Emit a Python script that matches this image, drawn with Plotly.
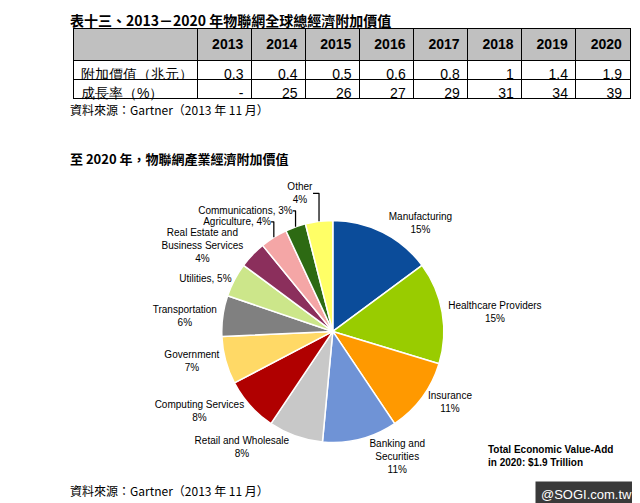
import plotly.graph_objects as go

years = ["2013","2014","2015","2016","2017","2018","2019","2020"]
value_add = ["0.3","0.4","0.5","0.6","0.8","1","1.4","1.9"]
growth = ["-","25","26","27","29","31","34","39"]
row_labels = ["附加價值（兆元）","成長率（%）"]

sectors = ["Manufacturing","Healthcare Providers","Insurance","Banking and<br>Securities",
           "Retail and Wholesale","Computing Services","Government","Transportation",
           "Utilities","Real Estate and<br>Business Services","Agriculture","Communications","Other"]
shares = [15,15,11,11,8,8,7,6,5,4,4,3,4]
inline = [False,False,False,False,False,False,False,False,True,False,True,True,False]
colors = ["#0b4c9a","#99cc00","#ff9900","#6f93d6","#c8c8c8","#b00000","#ffd966",
          "#808080","#cce68a","#8b2f5c","#f4a6a6","#2d6a13","#ffff66"]

texts = [f"{s}, {v}%" if il else f"{s}<br>{v}%" for s, v, il in zip(sectors, shares, inline)]

fig = go.Figure()
header = [""] + years
cols = [row_labels] + [[a, b] for a, b in zip(value_add, growth)]
fig.add_trace(go.Table(
    domain=dict(x=[65/640, 622/640], y=[0.70, 0.96]),
    columnwidth=[2.3] + [1]*8,
    header=dict(values=[f"<b>{h}</b>" for h in header], fill_color="#c0c0c0",
                line_color="black", align="right", height=19,
                font=dict(family="Liberation Sans", size=14, color="black")),
    cells=dict(values=cols, fill_color="white", line_color="black",
               align=["left"] + ["right"]*8, height=19,
               font=dict(family="Liberation Sans", size=14, color="black")),
))

fig.add_trace(go.Pie(
    labels=sectors, values=shares, text=texts, texttemplate="%{text}",
    textposition="outside", sort=False, direction="clockwise", rotation=0,
    marker=dict(colors=colors, line=dict(color="white", width=1.5)),
    textfont=dict(family="Liberation Sans", size=10, color="black"),
    domain=dict(x=[0.334, 0.681], y=[0.135, 0.579]), showlegend=False,
    hoverinfo="label+value",
))

def note(x, y, text, size, family="Noto Sans CJK TC", **kw):
    fig.add_annotation(x=x/640, y=1-y/503, xref="paper", yref="paper", xanchor="left",
                       yanchor="middle", text=text, showarrow=False,
                       font=dict(family=family, size=size, color="black"), **kw)

note(60, 12, "<b>表十三、2013－2020 年物聯網全球總經濟附加價值</b>", 14)
note(60, 101, "資料來源：Gartner（2013 年 11 月）", 12)
note(60, 150, "<b>至 2020 年，物聯網產業經濟附加價值</b>", 13)
note(478, 448, "<b>Total Economic Value-Add<br>in 2020: $1.9 Trillion</b>", 10,
     family="Liberation Sans", align="left")
note(60, 482, "資料來源：Gartner（2013 年 11 月）", 12)
fig.add_annotation(x=0.985, y=0.005, xref="paper", yref="paper", xanchor="right", yanchor="bottom",
                   text="@SOGI.com.tw", showarrow=False, bgcolor="#3a3a3a",
                   borderpad=5, font=dict(family="Liberation Sans", size=13, color="white"))

fig.update_layout(width=640, height=503, margin=dict(l=0, r=0, t=0, b=0),
                  paper_bgcolor="white", plot_bgcolor="white")
fig.write_html("out.html")
